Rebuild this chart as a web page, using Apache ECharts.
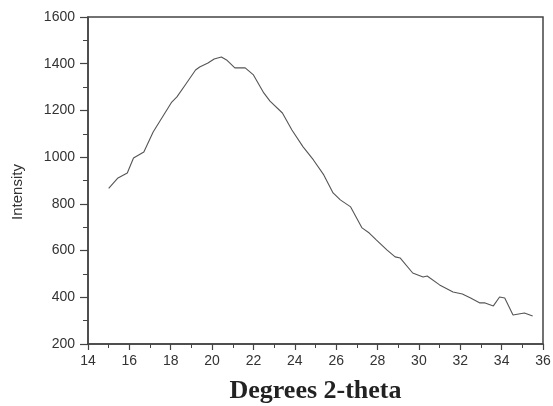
<!DOCTYPE html>
<html>
<head>
<meta charset="utf-8">
<script src="https://cdn.jsdelivr.net/npm/echarts@6/dist/echarts.min.js"></script>
<style>
  html, body { margin: 0; padding: 0; background: #fff; }
  #main { width: 553px; height: 406px; }
</style>
</head>
<body>
<div id="main"></div>
<script>
// 2-theta positions and intensities
var twoTheta = [15.0, 15.45, 15.9, 16.2, 16.7, 17.15, 17.6, 18.05, 18.3, 18.7, 19.2, 19.4, 19.8, 20.1, 20.45, 20.7,
  21.1, 21.6, 22.0, 22.5, 22.8, 23.4, 23.86, 24.4, 24.9, 25.4, 25.85, 26.2, 26.7, 27.25, 27.6, 27.95, 28.45,
  28.85, 29.1, 29.7, 30.2, 30.4, 31.0, 31.65, 32.1, 32.5, 32.95, 33.2, 33.6, 33.9, 34.15, 34.55, 35.1, 35.5];
var intensity = [866, 911, 932, 996, 1022, 1108, 1172, 1236, 1258, 1309, 1373, 1386, 1403, 1420, 1429, 1416,
  1382, 1382, 1352, 1275, 1240, 1189, 1116, 1044, 988, 924, 847, 817, 787, 697, 675, 645, 603,
  573, 568, 504, 487, 491, 453, 423, 414, 397, 376, 376, 363, 401, 397, 324, 333, 320];

var dom = document.getElementById('main');
var myChart = echarts.init(dom, null, { renderer: 'canvas' });

var points = twoTheta.map(function (x, i) { return [x, intensity[i]]; });

var option = {
  animation: false,
  backgroundColor: '#fff',
  grid: {
    left: 88, right: 10, top: 17, bottom: 62,
    outerBoundsMode: 'none',
    show: true,
    borderColor: '#444',
    borderWidth: 1.5
  },
  graphic: [
    {
      type: 'text',
      x: 18, y: 192,
      rotation: Math.PI / 2,
      style: {
        text: 'Intensity',
        fontFamily: 'Liberation Sans',
        fontSize: 15,
        fill: '#333',
        align: 'center',
        verticalAlign: 'middle'
      }
    }
  ],
  xAxis: {
    type: 'value',
    min: 14, max: 36, interval: 2,
    name: 'Degrees 2-theta',
    nameLocation: 'middle',
    nameGap: 34,
    nameTextStyle: { fontFamily: 'Liberation Serif', fontWeight: 'bold', fontSize: 26, color: '#222' },
    axisLine: { lineStyle: { color: '#444', width: 1.5 } },
    axisTick: { length: 6, lineStyle: { color: '#444', width: 1.2 } },
    minorTick: { show: true, splitNumber: 2, length: 4, lineStyle: { color: '#444' } },
    axisLabel: { fontFamily: 'Liberation Sans', fontSize: 14, color: '#333', margin: 10 },
    splitLine: { show: false }
  },
  yAxis: {
    type: 'value',
    min: 200, max: 1600, interval: 200,
    axisLine: { lineStyle: { color: '#444', width: 1.5 } },
    axisTick: { length: 8, lineStyle: { color: '#444', width: 1.2 } },
    minorTick: { show: true, splitNumber: 2, length: 5, lineStyle: { color: '#444' } },
    axisLabel: {
      fontFamily: 'Liberation Sans', fontSize: 14, color: '#333', margin: 13,
      formatter: function (v) { return String(v); }
    },
    splitLine: { show: false }
  },
  series: [
    {
      type: 'line',
      data: points,
      showSymbol: false,
      lineStyle: { color: '#555', width: 1.1 }
    }
  ]
};

myChart.setOption(option);
window.addEventListener('resize', myChart.resize);
</script>
</body>
</html>
